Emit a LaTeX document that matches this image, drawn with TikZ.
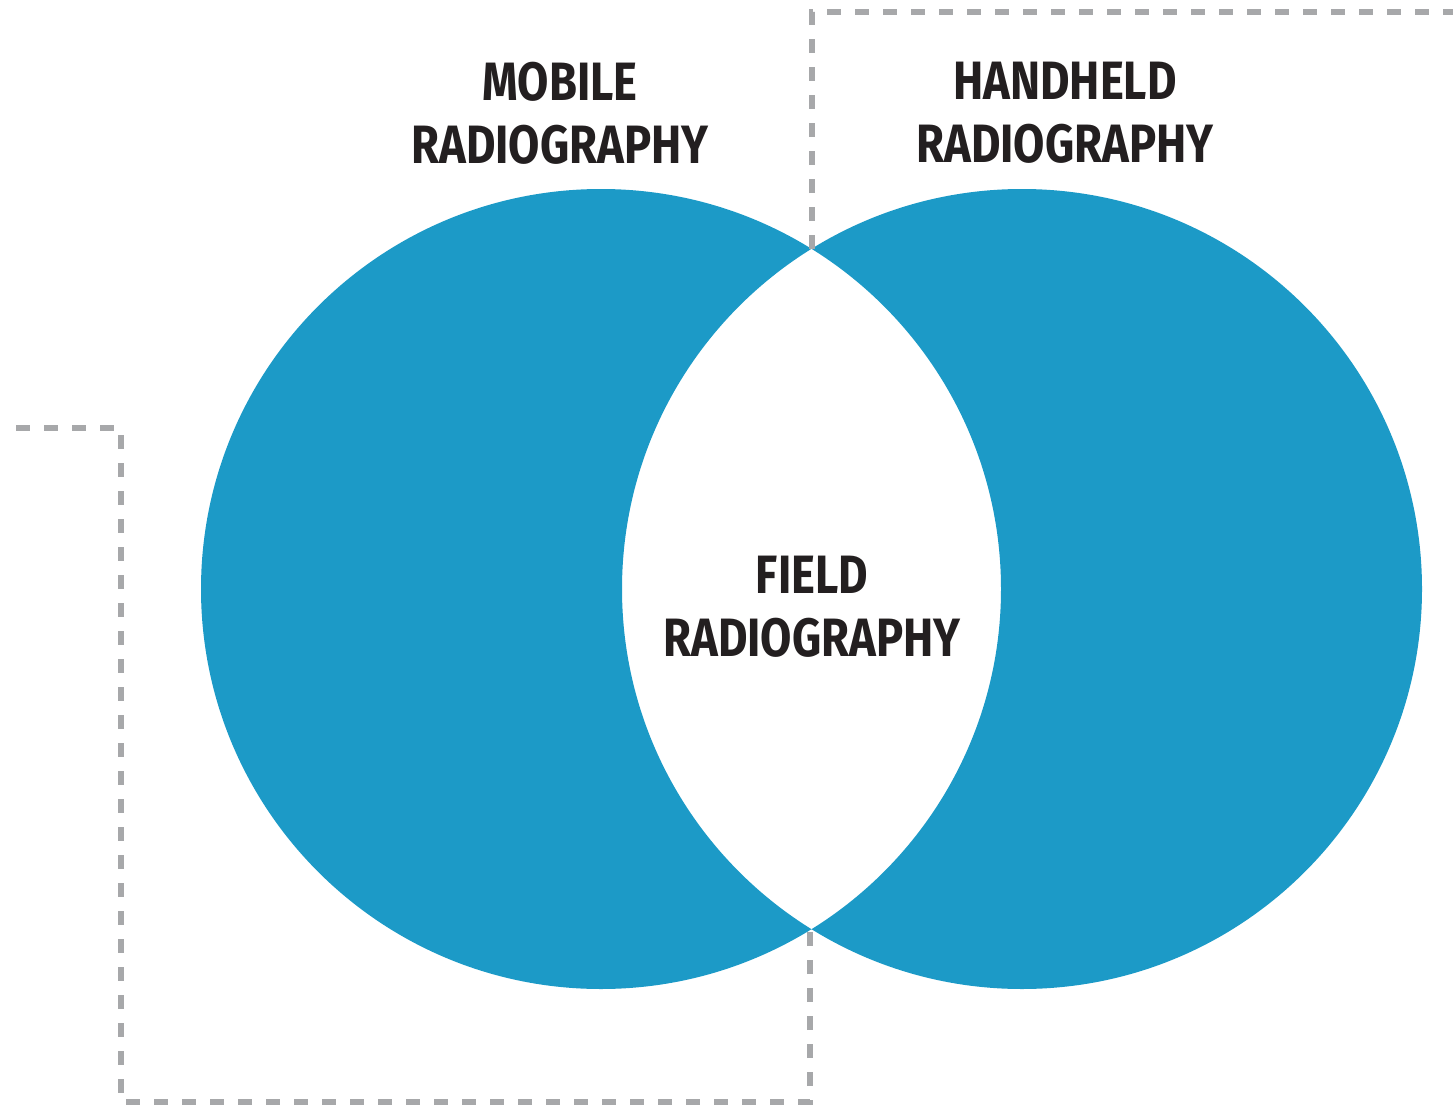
\documentclass[tikz,border=0pt]{standalone}
\usepackage{fontspec}
\newfontfamily\vennfont{Fira Sans}[FakeStretch=0.84]
\definecolor{vennblue}{HTML}{1C9AC7}
\definecolor{dashgray}{HTML}{A7A8AA}
\definecolor{inkblack}{HTML}{231F20}

\begin{document}
\begin{tikzpicture}[x=1pt,y=-1pt,
    venn/.style={fill=vennblue,even odd rule},
    frame/.style={draw=dashgray,line width=6pt,dash pattern=on 14pt off 14pt},
    lbl/.style={text=inkblack,align=center,font=\vennfont\bfseries\fontsize{54}{63}\selectfont}
]
        \useasboundingbox (0,0) rectangle (1453,1105);

        % the two sets and where they cross
        \coordinate (mobile) at (601,589);
        \coordinate (handheld) at (1022,589);
        \coordinate (cross-top) at (812,249);
        \coordinate (cross-bot) at (810,929);
        \fill[venn] (mobile) circle[radius=400pt] (handheld) circle[radius=400pt];

        % dashed outlines
        \coordinate (top-end) at (1453,12);
        \coordinate (left-end) at (16,428);
        \draw[frame] (cross-top) |- (top-end);
        \draw[frame] (left-end) -| (121,1102) -| (cross-bot);

        \node[lbl] (mobile-lbl) at (560,113) {MOBILE\\RADIOGRAPHY};
        \node[lbl] (handheld-lbl) at (1065,113) {HANDHELD\\RADIOGRAPHY};
        \node[lbl] (field-lbl) at (812,607) {FIELD\\RADIOGRAPHY};
\end{tikzpicture}
\end{document}
